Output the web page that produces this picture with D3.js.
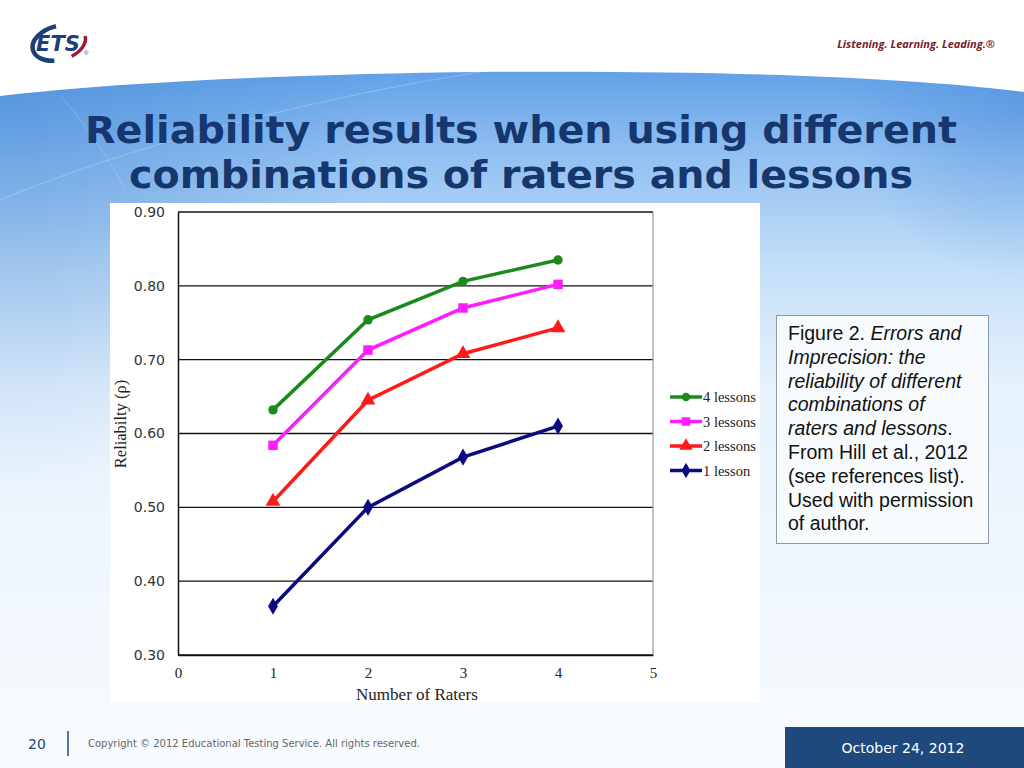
<!DOCTYPE html>
<html>
<head>
<meta charset="utf-8">
<script src="https://cdn.jsdelivr.net/npm/d3@7"></script>
<style>
  body { margin: 0; padding: 0; }
  svg { display: block; }
</style>
</head>
<body>
<div id="slide"></div>
<script>
// chart data
const raters = [1, 2, 3, 4];
const fourLessons = [0.632, 0.754, 0.806, 0.835];
const threeLessons = [0.584, 0.713, 0.770, 0.802];
const twoLessons = [0.508, 0.645, 0.708, 0.743];
const oneLesson = [0.366, 0.500, 0.568, 0.610];
const seriesNames = ['4 lessons', '3 lessons', '2 lessons', '1 lesson'];
const yTicks = [0.30, 0.40, 0.50, 0.60, 0.70, 0.80, 0.90];
const xTicks = [0, 1, 2, 3, 4, 5];

const captionLines = [
  [['Figure 2. ', false], ['Errors and', true]],
  [['Imprecision: the', true]],
  [['reliability of different', true]],
  [['combinations of', true]],
  [['raters and lessons', true], ['.', false]],
  [['From Hill et al., 2012', false]],
  [['(see references list).', false]],
  [['Used with permission', false]],
  [['of author.', false]]
];

const W = 1024, H = 768;

const svg = d3.select('#slide')
  .append('svg')
  .attr('width', W)
  .attr('height', H);

const defs = svg.append('defs');

// vertical sky gradient
const bg = defs.append('linearGradient')
  .attr('id', 'bg')
  .attr('gradientUnits', 'userSpaceOnUse')
  .attr('x1', 0).attr('y1', 75).attr('x2', 0).attr('y2', 768);
bg.append('stop').attr('offset', 0).attr('stop-color', '#64a2e8');
bg.append('stop').attr('offset', 0.12).attr('stop-color', '#93c1f2');
bg.append('stop').attr('offset', 0.28).attr('stop-color', '#c5dff8');
bg.append('stop').attr('offset', 0.45).attr('stop-color', '#e7f2fc');
bg.append('stop').attr('offset', 1).attr('stop-color', '#f8fbfe');

// darker corners
const lc = defs.append('radialGradient')
  .attr('id', 'lc')
  .attr('gradientUnits', 'userSpaceOnUse')
  .attr('cx', 0).attr('cy', 110).attr('r', 380);
lc.append('stop').attr('offset', 0).attr('stop-color', '#3a7fd0').attr('stop-opacity', 0.45);
lc.append('stop').attr('offset', 1).attr('stop-color', '#3a7fd0').attr('stop-opacity', 0);

const rc = defs.append('radialGradient')
  .attr('id', 'rc')
  .attr('gradientUnits', 'userSpaceOnUse')
  .attr('cx', 1024).attr('cy', 100).attr('r', 180);
rc.append('stop').attr('offset', 0).attr('stop-color', '#3b7fd0').attr('stop-opacity', 0.35);
rc.append('stop').attr('offset', 1).attr('stop-color', '#3b7fd0').attr('stop-opacity', 0);

svg.append('rect').attr('width', W).attr('height', H).attr('fill', 'url(#bg)');
svg.append('rect').attr('width', W).attr('height', H).attr('fill', 'url(#lc)');
svg.append('rect').attr('width', W).attr('height', H).attr('fill', 'url(#rc)');

// faint streaks
svg.append('path')
  .attr('d', 'M0,200 C120,150 300,100 480,72')
  .attr('fill', 'none').attr('stroke', '#d8f2ff').attr('stroke-opacity', 0.3).attr('stroke-width', 1.2);
svg.append('path')
  .attr('d', 'M60,95 C90,130 110,160 125,190')
  .attr('fill', 'none').attr('stroke', '#d8f2ff').attr('stroke-opacity', 0.25).attr('stroke-width', 1);

// white header with arched edge
svg.append('path')
  .attr('d', 'M0,0 H1024 V92 C900,76 700,70 480,72 C300,74 120,82 0,96 Z')
  .attr('fill', '#ffffff');

// ETS logo
const logo = svg.append('g').attr('transform', 'translate(59,43)');
logo.append('ellipse').attr('rx', 27).attr('ry', 17)
  .attr('transform', 'rotate(-15)')
  .attr('fill', 'none').attr('stroke', '#1d3f7a').attr('stroke-width', 4.5)
  .attr('stroke-dasharray', '62 200').attr('stroke-dashoffset', -44);
logo.append('ellipse').attr('rx', 27).attr('ry', 17)
  .attr('transform', 'rotate(-15)')
  .attr('fill', 'none').attr('stroke', '#9e1b32').attr('stroke-width', 3.5)
  .attr('stroke-dasharray', '48 200').attr('stroke-dashoffset', 22);
logo.append('text').attr('x', -1).attr('y', 8)
  .attr('text-anchor', 'middle')
  .attr('font-family', 'DejaVu Sans, sans-serif')
  .attr('font-weight', 'bold').attr('font-style', 'italic')
  .attr('font-size', 21).attr('fill', '#1d3f7a')
  .text('ETS');
logo.append('text').attr('x', 25).attr('y', 12)
  .attr('font-family', 'Arial, sans-serif').attr('font-size', 6).attr('fill', '#1d3f7a')
  .text('®');

svg.append('text')
  .attr('x', 995).attr('y', 48)
  .attr('text-anchor', 'end')
  .attr('font-family', 'Open Sans, sans-serif')
  .attr('font-weight', 'bold').attr('font-style', 'italic')
  .attr('font-size', 11).attr('fill', '#7a1a2c')
  .text('Listening. Learning. Leading.®');

// title
const titleLines = ['Reliability results when using different', 'combinations of raters and lessons'];
const titleWidths = [872, 784];
svg.selectAll('.title')
  .data(titleLines)
  .enter()
  .append('text')
  .attr('class', 'title')
  .attr('x', 521)
  .attr('y', (d, i) => 143 + i * 45)
  .attr('text-anchor', 'middle')
  .attr('font-family', 'DejaVu Sans, sans-serif')
  .attr('font-weight', 'bold')
  .attr('font-size', 37)
  .attr('fill', '#16376e')
  .attr('textLength', (d, i) => titleWidths[i])
  .attr('lengthAdjust', 'spacingAndGlyphs')
  .text(d => d);

// chart panel
svg.append('rect')
  .attr('x', 110).attr('y', 203).attr('width', 650).attr('height', 500)
  .attr('fill', '#ffffff');

const margin = { left: 178, top: 212, right: 653, bottom: 655 };
const x = d3.scaleLinear().domain([0, 5]).range([margin.left, margin.right]);
const y = d3.scaleLinear().domain([0.3, 0.9]).range([margin.bottom, margin.top]);

const g = svg.append('g');

// grid lines
g.selectAll('.grid')
  .data(yTicks)
  .enter()
  .append('line')
  .attr('x1', x(0)).attr('x2', x(5))
  .attr('y1', d => y(d)).attr('y2', d => y(d))
  .attr('stroke', '#111').attr('stroke-width', 1.3);

g.append('line')
  .attr('x1', x(5)).attr('x2', x(5))
  .attr('y1', y(0.9)).attr('y2', y(0.3))
  .attr('stroke', '#999').attr('stroke-width', 1.2);

const yAxis = g.append('g')
  .attr('transform', `translate(${x(0)},0)`)
  .call(d3.axisLeft(y).tickValues(yTicks).tickFormat(d3.format('.2f')).tickSize(0).tickPadding(13));
yAxis.select('.domain').attr('stroke', '#111').attr('stroke-width', 1.5);
yAxis.selectAll('text')
  .attr('font-family', 'DejaVu Sans, sans-serif')
  .attr('font-size', 14)
  .attr('fill', '#333');

const xAxis = g.append('g')
  .attr('transform', `translate(0,${y(0.3)})`)
  .call(d3.axisBottom(x).tickValues(xTicks).tickFormat(d3.format('d')).tickSize(0).tickPadding(12));
xAxis.select('.domain').attr('stroke', '#111').attr('stroke-width', 1.3);
xAxis.selectAll('text')
  .attr('font-family', 'Liberation Serif, serif')
  .attr('font-size', 15)
  .attr('fill', '#222');

svg.append('text')
  .attr('x', 417).attr('y', 700)
  .attr('text-anchor', 'middle')
  .attr('font-family', 'Liberation Serif, serif')
  .attr('font-size', 17).attr('fill', '#222')
  .text('Number of Raters');

svg.append('text')
  .attr('transform', 'translate(126,424) rotate(-90)')
  .attr('text-anchor', 'middle')
  .attr('font-family', 'Liberation Serif, serif')
  .attr('font-size', 16.5).attr('fill', '#222')
  .text('Reliabilty (ρ)');

const series = [
  { name: seriesNames[0], values: fourLessons, color: '#1b8a1b', symbol: d3.symbolCircle, size: 70 },
  { name: seriesNames[1], values: threeLessons, color: '#ff1cff', symbol: d3.symbolSquare, size: 90 },
  { name: seriesNames[2], values: twoLessons, color: '#ff1a1a', symbol: d3.symbolTriangle, size: 95 },
  { name: seriesNames[3], values: oneLesson, color: '#0b0b80', symbol: d3.symbolDiamond, size: 85 }
];

const line = d3.line()
  .x((d, i) => x(raters[i]))
  .y(d => y(d));

const serie = g.selectAll('.serie')
  .data(series)
  .enter()
  .append('g')
  .attr('class', 'serie');

serie.append('path')
  .attr('d', d => line(d.values))
  .attr('fill', 'none')
  .attr('stroke', d => d.color)
  .attr('stroke-width', 3.5);

serie.selectAll('.mark')
  .data(d => d.values.map((v, i) => ({ v, i, s: d })))
  .enter()
  .append('path')
  .attr('class', 'mark')
  .attr('transform', d => `translate(${x(raters[d.i])},${y(d.v)})`)
  .attr('d', d => d3.symbol().type(d.s.symbol).size(d.s.size)())
  .attr('fill', d => d.s.color);

// legend
const legend = svg.selectAll('.legend')
  .data(series)
  .enter()
  .append('g')
  .attr('class', 'legend')
  .attr('transform', (d, i) => `translate(670,${397 + i * 24.5})`);

legend.append('line')
  .attr('x1', 0).attr('x2', 32)
  .attr('stroke', d => d.color).attr('stroke-width', 3.5);
legend.append('path')
  .attr('transform', 'translate(16,0)')
  .attr('d', d => d3.symbol().type(d.symbol).size(d.size * 0.8)())
  .attr('fill', d => d.color);
legend.append('text')
  .attr('x', 33).attr('y', 5)
  .attr('font-family', 'Liberation Serif, serif')
  .attr('font-size', 14.5).attr('fill', '#222')
  .text(d => d.name);

// caption box
svg.append('rect')
  .attr('x', 776.5).attr('y', 315.5).attr('width', 212).attr('height', 228)
  .attr('fill', '#f8fbfe').attr('stroke', '#8d99a6').attr('stroke-width', 1);

const cap = svg.append('text')
  .attr('font-family', 'Liberation Sans, Arial, sans-serif')
  .attr('font-size', 19.5)
  .attr('fill', '#111');
captionLines.forEach((parts, i) => {
  parts.forEach((p, j) => {
    const ts = cap.append('tspan')
      .attr('font-style', p[1] ? 'italic' : 'normal')
      .text(p[0]);
    if (j === 0) ts.attr('x', 788).attr('y', 340 + i * 23.8);
  });
});

// footer
svg.append('text')
  .attr('x', 28).attr('y', 749)
  .attr('font-family', 'DejaVu Sans, sans-serif')
  .attr('font-size', 14).attr('fill', '#1f497d')
  .text('20');
svg.append('line')
  .attr('x1', 68).attr('x2', 68).attr('y1', 731).attr('y2', 756)
  .attr('stroke', '#1f497d').attr('stroke-width', 1.5);
svg.append('text')
  .attr('x', 88).attr('y', 747)
  .attr('font-family', 'DejaVu Sans, sans-serif')
  .attr('font-size', 10).attr('fill', '#666')
  .text('Copyright © 2012 Educational Testing Service. All rights reserved.');

svg.append('rect')
  .attr('x', 785).attr('y', 727).attr('width', 239).attr('height', 41)
  .attr('fill', '#1f497d');
svg.append('text')
  .attr('x', 903).attr('y', 753)
  .attr('text-anchor', 'middle')
  .attr('font-family', 'DejaVu Sans, sans-serif')
  .attr('font-size', 14).attr('fill', '#ffffff')
  .text('October 24, 2012');
</script>
</body>
</html>
